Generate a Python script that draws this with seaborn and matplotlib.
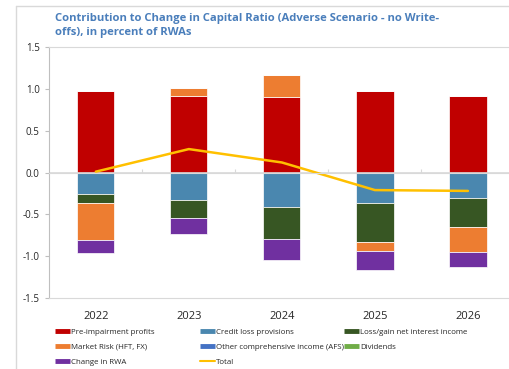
import numpy as np
import seaborn as sns
import matplotlib.pyplot as plt
from matplotlib.lines import Line2D

sns.set_style("white")
plt.rcParams["font.family"] = ["Open Sans", "DejaVu Sans"]

#%% data
years = ["2022", "2023", "2024", "2025", "2026"]
pre_impairment = [0.97, 0.91, 0.90, 0.97, 0.92]
credit_loss = [-0.26, -0.33, -0.41, -0.37, -0.30]
net_interest = [-0.10, -0.21, -0.39, -0.46, -0.35]
market_risk = [-0.45, 0.10, 0.27, -0.11, -0.30]
other_ci = [0.0, 0.0, 0.0, 0.0, 0.0]
dividends = [0.0, 0.0, 0.0, 0.0, 0.0]
change_rwa = [-0.15, -0.19, -0.25, -0.22, -0.18]
total = [0.01, 0.28, 0.12, -0.21, -0.22]

series_names = ["Pre-impairment profits", "Credit loss provisions",
                "Loss/gain net interest income", "Market Risk (HFT, FX)",
                "Other comprehensive income (AFS)", "Dividends", "Change in RWA"]
series_vals = [pre_impairment, credit_loss, net_interest, market_risk,
               other_ci, dividends, change_rwa]
colors = ["#C00000", "#4A87AF", "#375623", "#ED7D31", "#4472C4", "#70AD47", "#7030A0"]
total_color = "#FFC000"
grid_c = "#D9D9D9"

#%%
fig = plt.figure(figsize=(5.10, 3.69), dpi=100, facecolor="white")
ax = fig.add_axes([0.0967, 0.1924, 0.912, 0.6802])

pos_base = np.zeros(len(years))
neg_base = np.zeros(len(years))
for name, vals, col in zip(series_names, series_vals, colors):
    vals = np.array(vals)
    base = np.where(vals >= 0, pos_base, neg_base)
    sns.barplot(x=years, y=vals, bottom=base, color=col, width=0.4,
                errorbar=None, edgecolor="white", linewidth=0.5,
                saturation=1, ax=ax)
    pos_base += np.where(vals >= 0, vals, 0)
    neg_base += np.where(vals < 0, vals, 0)

ax.axhline(0, color=grid_c, lw=1.2, zorder=1)
sns.lineplot(x=np.arange(len(years)), y=total, color=total_color, lw=1.8, ax=ax, zorder=5)

ax.set_xlim(-0.5, len(years) - 0.5)
ax.set_ylim(-1.5, 1.5)
ax.set_yticks(np.arange(-1.5, 1.51, 0.5))
ax.set_yticklabels([f"{v:.1f}" for v in np.arange(-1.5, 1.51, 0.5)])
ax.set_xlabel(""); ax.set_ylabel("")
ax.tick_params(axis="x", length=0, pad=9, labelsize=8, labelcolor="#262626")
ax.tick_params(axis="y", left=True, length=3, width=0.8, color="#BFBFBF",
               pad=4, labelsize=7, labelcolor="#262626")
for s in ["top", "bottom"]:
    ax.spines[s].set_color(grid_c)
ax.spines["left"].set_color("#BFBFBF")
ax.spines["right"].set_visible(False)

# small ticks between categories on the zero line
ax2 = ax.twiny()
ax2.set_xlim(ax.get_xlim())
for s in ["top", "left", "right"]:
    ax2.spines[s].set_visible(False)
ax2.spines["bottom"].set_position(("data", 0))
ax2.spines["bottom"].set_color(grid_c)
ax2.xaxis.set_ticks_position("bottom")
ax2.set_xticks(np.arange(0.5, len(years) - 0.5, 1))
ax2.tick_params(axis="x", direction="in", length=3, color=grid_c, labelbottom=False)

# title
fig.text(55 / 510, 1 - 13 / 369,
         "Contribution to Change in Capital Ratio (Adverse Scenario - no Write-\noffs), in percent of RWAs",
         ha="left", va="top", fontsize=8.1, fontweight="bold", color="#4A7EBB",
         linespacing=1.4)

# legend: three fixed columns, filled row by row
handles = [Line2D([], [], color=c, lw=3.5, solid_capstyle="butt") for c in colors]
handles.append(Line2D([], [], color=total_color, lw=1.5))
labels = series_names + ["Total"]
columns = [[0, 3, 6], [1, 4, 7], [2, 5]]
col_x = [55, 200, 344]
for idx, x in zip(columns, col_x):
    fig.legend([handles[i] for i in idx], [labels[i] for i in idx],
               loc="upper left", bbox_to_anchor=(x / 510, 1 - 328 / 369),
               frameon=False, fontsize=5.7, handlelength=1.9, handletextpad=0.15,
               labelspacing=0.95, borderaxespad=0, borderpad=0,
               labelcolor="#262626")

# outer frame
fig.add_artist(Line2D([16 / 510, 1], [1 - 6 / 369, 1 - 6 / 369], color=grid_c, lw=1,
                      transform=fig.transFigure))
fig.add_artist(Line2D([16 / 510, 16 / 510], [0, 1 - 6 / 369], color=grid_c, lw=1,
                      transform=fig.transFigure))

plt.savefig("out.png", dpi=100)
plt.close()
